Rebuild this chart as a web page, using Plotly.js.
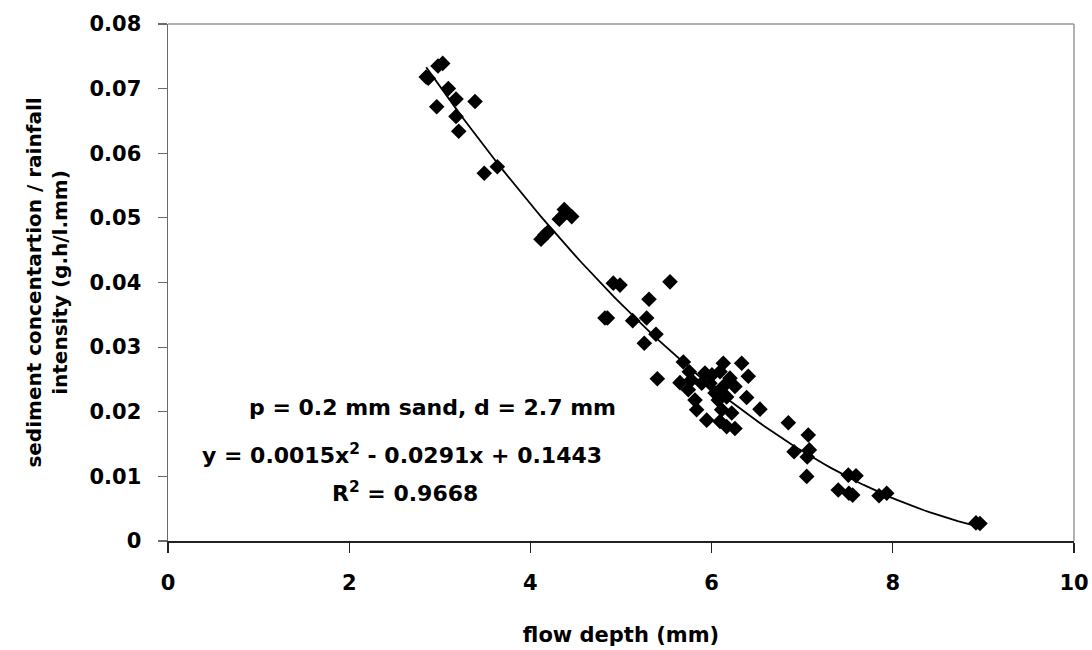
<!DOCTYPE html>
<html>
<head>
<meta charset="utf-8">
<script src="https://cdn.plot.ly/plotly-3.0.1.min.js"></script>
<style>html,body{margin:0;padding:0;background:#fff;}#chart{width:1092px;height:650px;}</style>
</head>
<body>
<div id="chart"></div>
<script>
// flow depth (mm)
const flowDepth = [
  2.85, 2.873, 2.98, 3.032, 3.094, 3.179, 2.966, 3.389, 3.179, 3.209,
  3.635, 3.491, 4.374, 4.319, 4.456, 4.161, 4.117, 4.194,
  4.915, 4.989, 5.541, 5.309, 4.823, 4.85, 5.129, 5.283, 5.386, 5.257, 5.401,
  5.688, 5.754, 5.651, 5.743, 5.817, 5.835, 5.946, 5.891, 5.927, 5.982,
  6.038, 6.074, 6.129, 6.093, 6.129, 6.166, 6.111, 6.222, 6.093, 6.166,
  6.258, 6.203, 6.258, 6.332, 6.405, 6.387, 6.534, 6.004, 5.775,
  6.847, 7.067, 6.910, 7.079, 7.056, 7.050, 7.509, 7.594, 7.398, 7.557,
  7.516, 7.848, 7.933, 8.918, 8.962
];
// sediment concentration / rainfall intensity (g.h/l.mm)
const sedimentRatio = [
  0.0718, 0.0716, 0.0735, 0.0739, 0.0700, 0.0684, 0.0672, 0.0680, 0.0657, 0.0634,
  0.0579, 0.0569, 0.0513, 0.0498, 0.0502, 0.0474, 0.0467, 0.0478,
  0.0399, 0.0396, 0.0401, 0.0374, 0.0345, 0.0345, 0.0341, 0.0345, 0.0320, 0.0306, 0.0251,
  0.0277, 0.0262, 0.0245, 0.0234, 0.0218, 0.0203, 0.0187, 0.0244, 0.0260, 0.0244,
  0.0229, 0.0218, 0.0275, 0.0262, 0.0239, 0.0223, 0.0203, 0.0198, 0.0185, 0.0177,
  0.0174, 0.0252, 0.0239, 0.0275, 0.0255, 0.0222, 0.0204, 0.0257, 0.0249,
  0.0183, 0.0164, 0.0138, 0.0141, 0.0130, 0.0100, 0.0102, 0.0101, 0.0079, 0.0071,
  0.0074, 0.0070, 0.0074, 0.0028, 0.0027
];
const xTicks = [0, 2, 4, 6, 8, 10];
const yTicks = [0, 0.01, 0.02, 0.03, 0.04, 0.05, 0.06, 0.07, 0.08];
const annotationLines = [
  "p = 0.2 mm sand, d = 2.7 mm",
  "y = 0.0015x<sup>2</sup> - 0.0291x + 0.1443",
  "R<sup>2</sup> = 0.9668"
];

// least-squares quadratic trendline through the data (as the original chart's trendline)
function quadFit(xs, ys) {
  let S = [0, 0, 0, 0, 0], T = [0, 0, 0];
  for (let i = 0; i < xs.length; i++) {
    let p = 1;
    for (let k = 0; k < 5; k++) { S[k] += p; if (k < 3) T[k] += p * ys[i]; p *= xs[i]; }
  }
  const A = [[S[0], S[1], S[2], T[0]], [S[1], S[2], S[3], T[1]], [S[2], S[3], S[4], T[2]]];
  for (let c = 0; c < 3; c++) {
    for (let r = c + 1; r < 3; r++) {
      const f = A[r][c] / A[c][c];
      for (let k = c; k < 4; k++) A[r][k] -= f * A[c][k];
    }
  }
  const sol = [0, 0, 0];
  for (let r = 2; r >= 0; r--) {
    let s = A[r][3];
    for (let k = r + 1; k < 3; k++) s -= A[r][k] * sol[k];
    sol[r] = s / A[r][r];
  }
  return sol; // c0, c1, c2
}
const coef = quadFit(flowDepth, sedimentRatio);
const xmin = Math.min(...flowDepth), xmax = Math.max(...flowDepth);
const trendX = [], trendY = [];
for (let i = 0; i <= 100; i++) {
  const x = xmin + (xmax - xmin) * i / 100;
  trendX.push(x);
  trendY.push(coef[0] + coef[1] * x + coef[2] * x * x);
}

const fam = "DejaVu Sans, Liberation Sans, Arial, sans-serif";

const traces = [
  {x: trendX, y: trendY, type: "scatter", mode: "lines",
   line: {color: "#000", width: 1.8}, hoverinfo: "skip"},
  {x: flowDepth, y: sedimentRatio, type: "scatter", mode: "markers",
   marker: {symbol: "diamond", size: 12, color: "#000", line: {width: 0}}}
];

const layout = {
  width: 1092, height: 650,
  margin: {l: 168, r: 18, t: 24, b: 109, pad: 0},
  paper_bgcolor: "#fff", plot_bgcolor: "#fff",
  showlegend: false,
  font: {family: fam, size: 20, color: "#000"},
  xaxis: {
    range: [0, 10], tickvals: xTicks, ticktext: xTicks.map(String),
    showgrid: false, zeroline: false, showline: true, linecolor: "#222", linewidth: 1.5,
    ticks: "outside", ticklen: 10, tickcolor: "#222", tickwidth: 1.2,
    ticklabelstandoff: 12,
    tickfont: {family: fam, size: 21, color: "#000", weight: "bold"},
    title: {text: "<b>flow depth (mm)</b>", font: {family: fam, size: 21, color: "#000"}, standoff: 33}
  },
  yaxis: {
    range: [0, 0.08], tickvals: yTicks, ticktext: yTicks.map(v => v === 0 ? "0" : v.toFixed(2)),
    showgrid: false, zeroline: false, showline: true, linecolor: "#6a6a6a", linewidth: 1.5,
    ticks: "outside", ticklen: 9, tickcolor: "#6a6a6a", tickwidth: 1.2,
    ticklabelstandoff: 12,
    tickfont: {family: fam, size: 21, color: "#000", weight: "bold"},
    title: {text: "<b>sediment concentartion / rainfall<br>intensity (g.h/l.mm)</b>",
            font: {family: fam, size: 20, color: "#000"}, standoff: 16}
  },
  shapes: [
    {type: "line", xref: "paper", yref: "paper", x0: 0, x1: 1, y0: 1, y1: 1, line: {color: "#999", width: 1.5}},
    {type: "line", xref: "paper", yref: "paper", x0: 1, x1: 1, y0: 0, y1: 1, line: {color: "#999", width: 1.5}}
  ],
  annotations: [
    {x: 2.914, y: 0.0207, xref: "x", yref: "y", text: "<b>" + annotationLines[0] + "</b>", showarrow: false, font: {family: fam, size: 22}},
    {x: 2.583, y: 0.0134, xref: "x", yref: "y", text: "<b>" + annotationLines[1] + "</b>", showarrow: false, font: {family: fam, size: 22}},
    {x: 2.616, y: 0.0076, xref: "x", yref: "y", text: "<b>" + annotationLines[2] + "</b>", showarrow: false, font: {family: fam, size: 22}}
  ]
};

Plotly.newPlot("chart", traces, layout, {displayModeBar: false, staticPlot: true});
</script>
</body>
</html>
